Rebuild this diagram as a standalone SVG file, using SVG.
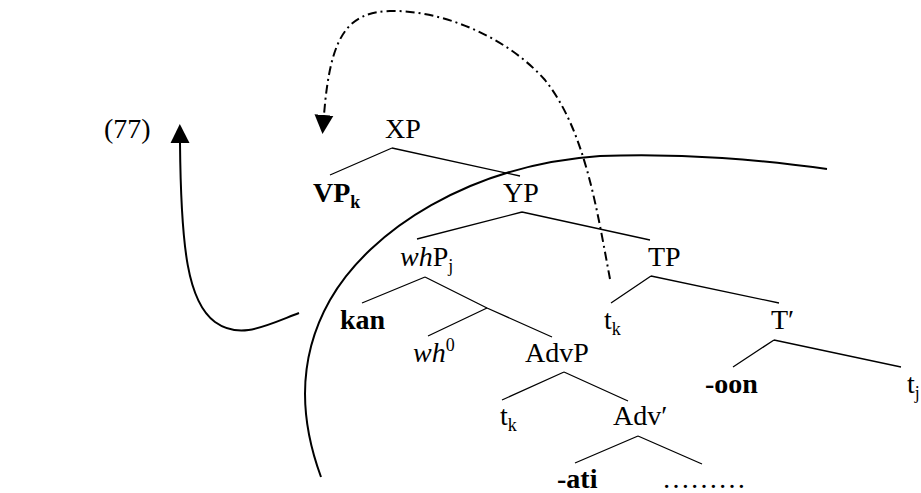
<svg xmlns="http://www.w3.org/2000/svg" width="921" height="493" viewBox="0 0 921 493">
<defs>
<style>
text{font-family:"Liberation Serif","Times New Roman",serif;font-size:28px;fill:#000}
.b{font-weight:bold}
.i{font-style:italic}
.s{font-size:18px}
.br{stroke:#000;stroke-width:1.3;fill:none}
.cv{stroke:#000;stroke-width:2;fill:none}
.dd{stroke:#000;stroke-width:2;fill:none;stroke-dasharray:9,4,2,4}
</style>
<marker id="ah" viewBox="0 0 20 20" refX="0" refY="10" markerWidth="19" markerHeight="21" markerUnits="userSpaceOnUse" orient="auto">
<path d="M0,0 L20,10 L0,20 z" fill="#000"/>
</marker>
</defs>
<rect width="921" height="493" fill="#fff"/>
<text x="104" y="138">(77)</text>
<g id="connectors">
<path class="br" d="M392,148 L330,175 M392,148 L520,176"/>
<path class="br" d="M522,212 L417,239 M522,212 L650,240"/>
<path class="br" d="M425,277 L362,303 M425,277 L487,308"/>
<path class="br" d="M487,308 L428,336 M487,308 L552,337"/>
<path class="br" d="M651,276 L611,303 M651,276 L779,303"/>
<path class="br" d="M774,340 L733,367 M774,340 L901,367"/>
<path class="br" d="M564,372 L502,400 M564,372 L628,401"/>
<path class="br" d="M638,436 L575,463 M638,436 L702,464"/>
<path class="cv" d="M321,477 C300,420 296,360 330,300 C370,230 470,165 600,156 C690,153 760,160 827,169"/>
<path class="cv" d="M299,313 C265,326 240,340 215,322 C188,302 181,250 180,143" marker-end="url(#ah)"/>
<path class="dd" d="M610,279 C597,210 585,130 545,80 C505,35 440,10 390,11 C345,12 330,40 324,115" marker-end="url(#ah)"/>
</g>
<g id="n-XP"><text x="385" y="138">XP</text></g>
<g id="n-VPk"><text x="313" y="202" class="b">VP<tspan class="s" dy="6">k</tspan></text></g>
<g id="n-YP"><text x="503" y="202">YP</text></g>
<g id="n-whPj"><text x="400" y="266"><tspan class="i">wh</tspan>P<tspan class="s" dy="6">j</tspan></text></g>
<g id="n-TP"><text x="648" y="266">TP</text></g>
<g id="n-kan"><text x="340" y="329" class="b">kan</text></g>
<g id="n-tk1"><text x="604" y="329">t<tspan class="s" dy="6">k</tspan></text></g>
<g id="n-Tbar"><text x="771" y="329">T′</text></g>
<g id="n-wh0"><text x="413" y="362"><tspan class="i">wh</tspan><tspan class="s" dy="-11">0</tspan></text></g>
<g id="n-AdvP"><text x="525" y="362">AdvP</text></g>
<g id="n-oon"><text x="705" y="393" class="b">-oon</text></g>
<g id="n-tj"><text x="907" y="393">t<tspan class="s" dy="6">j</tspan></text></g>
<g id="n-tk2"><text x="500" y="425">t<tspan class="s" dy="6">k</tspan></text></g>
<g id="n-Advbar"><text x="613" y="425">Adv′</text></g>
<g id="n-ati"><text x="557" y="488" class="b">-ati</text></g>
<g id="n-dots"><text x="662" y="488">………</text></g>
</svg>
